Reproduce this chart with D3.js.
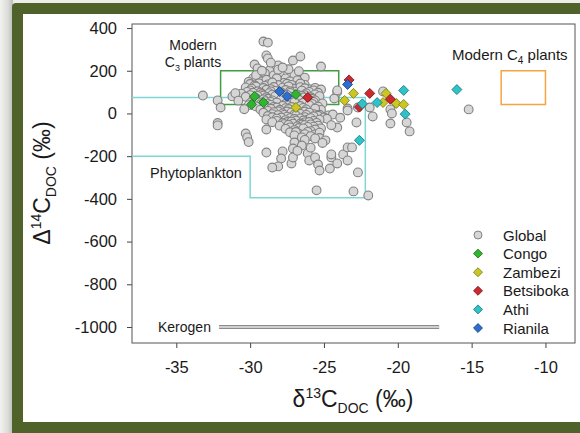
<!DOCTYPE html>
<html>
<head>
<meta charset="utf-8">
<script src="https://cdn.jsdelivr.net/npm/d3@7/dist/d3.min.js"></script>
<style>
  html, body { margin: 0; padding: 0; background: #ffffff; }
  svg { display: block; font-family: "Liberation Sans", Arial, sans-serif; }
</style>
</head>
<body>
<svg id="chart" width="580" height="433"></svg>
<script>
// Axis ticks
const xTicks = [-35, -30, -25, -20, -15, -10];
const yTicks = [400, 200, 0, -200, -400, -600, -800, -1000];

// Source end-member regions: [δ13C, Δ14C]
const c3Box = [[-32, 42], [-24, 200]];
const c4Box = [[-13, 42], [-10, 200]];
const phytoplankton = [[-40, 75], [-22.2, 75], [-22.2, -395], [-30, -395], [-30, -200], [-40, -200]];
const kerogen = [[-32.1, -1000], [-17.2, -1000]];

// Global river DOC compilation [δ13C, Δ14C]
const globalPts = [
  [-29.1,337],[-28.8,332],[-28.9,272],[-28.8,258],[-27.1,248],[-26.6,267],[-25.2,220],[-29.7,229],[-29.5,211],[-28.7,201],
  [-28.1,225],[-28.0,192],[-29.8,164],[-29.3,172],[-28.5,155],[-27.6,164],[-27.0,183],[-28.4,178],[-29.0,188],[-26.7,198],
  [-27.4,207],[-26.3,168],[-30.1,148],[-28.6,238],[-27.7,143],
  [-29.2,150],[-28.9,158],[-28.2,165],[-27.3,150],[-26.8,155],[-29.6,180],[-28.1,205],[-27.8,215],[-29.2,200],
  [-30.0,138],[-29.4,141],[-28.8,136],[-28.1,133],[-27.5,139],[-26.9,128],[-26.3,134],
  [-29.7,131],[-29.0,129],[-28.5,145],[-27.2,134],[-26.6,140],
  [-30.3,122],[-29.6,126],[-29.1,119],[-28.4,124],[-27.8,121],[-27.1,117],[-26.6,123],[-26.0,114],
  [-29.9,116],[-28.6,114],[-27.4,127],[-26.3,118],[-25.6,120],
  [-30.0,108],[-29.5,104],[-28.9,111],[-28.3,106],[-27.6,110],[-27.0,102],[-26.5,107],[-25.7,108],[-25.2,112],
  [-30.2,101],[-29.3,98],[-28.6,103],[-27.9,99],[-27.3,104],[-26.0,101],[-25.4,97],
  [-30.6,93],[-29.8,97],[-29.2,91],[-28.7,95],[-27.9,92],[-27.3,96],[-26.8,88],[-26.2,94],[-24.1,100],
  [-30.0,86],[-29.1,84],[-28.5,88],[-27.5,87],[-26.9,71],[-26.3,86],[-25.6,89],
  [-30.3,78],[-29.5,82],[-28.9,76],[-28.3,81],[-27.7,74],[-27.1,79],[-26.5,83],[-25.9,76],[-25.3,81],
  [-29.6,71],[-28.8,69],[-28.0,58],[-27.5,68],[-26.4,75],[-25.8,69],
  [-29.8,63],[-29.1,66],[-28.5,61],[-27.9,67],[-27.3,60],[-26.7,64],[-26.1,68],[-25.6,61],[-24.3,70],
  [-29.8,56],[-29.0,58],[-28.6,54],[-27.3,50],[-26.7,43],[-25.7,54],
  [-30.0,48],[-29.4,52],[-28.8,46],[-28.2,51],[-27.6,45],[-27.0,53],[-26.4,50],[-25.1,47],
  [-30.1,39],[-29.3,43],[-28.6,40],[-27.5,39],[-26.9,24],[-25.8,45],
  [-29.6,33],[-29.0,37],[-28.4,31],[-27.8,36],[-27.2,30],[-26.6,35],[-26.0,39],[-25.4,32],
  [-29.0,27],[-28.2,28],[-27.6,25],[-26.4,26],[-25.2,17],
  [-29.3,18],[-28.6,22],[-28.0,16],[-27.4,21],[-26.8,14],[-26.2,19],[-25.6,23],[-23.4,23],
  [-28.8,12],[-28.1,10],[-27.5,9],[-26.9,1],[-26.3,9],[-25.7,-3],
  [-29.1,3],[-28.4,6],[-27.8,0],[-27.2,5],[-26.6,-2],[-26.0,4],[-25.3,-6],[-24.7,-9],
  [-28.5,-3],[-27.7,-7],[-27.0,-5],[-26.2,-7],[-25.4,-11],
  [-28.8,-12],[-28.1,-8],[-27.5,-15],[-26.9,-10],[-26.3,-17],[-25.7,-13],[-25.0,-19],[-24.4,-5],
  [-28.5,-18],[-27.9,-19],[-27.3,-22],[-26.6,-23],[-26.1,-29],[-24.8,-25],
  [-28.9,-28],[-28.2,-24],[-27.6,-31],[-27.0,-26],[-26.4,-33],[-25.9,-22],[-25.3,-29],
  [-28.2,-35],[-27.5,-40],[-26.9,-34],[-26.3,-42],[-25.7,-35],
  [-28.5,-41],[-27.8,-45],[-27.2,-38],[-26.6,-47],[-26.0,-40],[-25.5,-44],
  [-27.7,-50],[-27.1,-48],[-26.5,-52],[-25.9,-51],[-25.4,-57],
  [-28.0,-57],[-27.4,-53],[-26.8,-60],[-26.3,-55],[-25.7,-62],[-25.2,-70],
  [-27.3,-65],[-26.7,-68],[-26.1,-63],[-25.6,-75],
  [-28.9,-75],[-27.6,-72],[-27.0,-78],[-26.4,-70],[-25.9,-83],[-24.1,-66],
  [-27.3,-88],[-26.7,-95],[-26.1,-86],[-25.6,-98],
  [-26.9,-87],[-26.3,-97],[-25.3,-90],
  [-27.0,-103],[-26.5,-112],[-25.9,-106],[-25.3,-115],
  [-27.0,-136],[-26.3,-124],[-25.6,-117],[-24.9,-126],[-25.1,-138],
  [-27.1,-164],[-27.8,-178],[-27.9,-211],[-28.1,-248],[-28.5,-253],[-27.2,-234],[-27.1,-206],[-26.1,-187],
  [-26.0,-220],[-25.6,-206],[-25.4,-239],[-25.3,-267],[-24.5,-206],[-24.6,-258],[-25.5,-360],[-28.9,-183],
  [-24.5,-192],[-24.1,-234],[-23.7,-192],[-23.4,-220],[-23.4,-159],[-23.1,-159],[-22.7,-276],[-23.0,-365],
  [-22.0,-384],[-26.5,-150],[-25.9,-160],[-26.8,-175],
  [-33.2,84],[-31.2,80],[-32.2,61],[-32.0,28],[-32.2,-45],[-32.2,-56],[-30.3,-94],[-30.2,-112],[-30.1,-134],
  [-31.0,95],[-30.8,60],[-30.4,20],
  [-24.1,108],[-23.4,14],[-22.7,28],[-21.9,28],[-21.7,-14],[-22.8,-42],[-21.0,103],[-20.5,19],[-20.4,0],
  [-20.5,-47],[-19.4,-42],[-19.2,-84],[-15.2,19],[-24.5,-55],[-23.9,-20]
];

// African river DOC
const congo = [[-29.7,80],[-29.9,42],[-29.1,51],[-26.9,89]];
const zambezi = [[-26.9,28],[-23.0,94],[-23.6,61],[-20.8,94],[-21.0,51],[-20.1,47],[-19.6,42]];
const betsiboka = [[-26.1,75],[-23.3,157],[-21.9,94],[-22.6,30],[-20.5,67]];
const athi = [[-19.6,108],[-21.4,51],[-22.4,45],[-19.5,-3],[-22.6,-126],[-16.0,112]];
const rianila = [[-28.0,103],[-27.5,80],[-23.4,136]];

const legendNames = ["Global", "Congo", "Zambezi", "Betsiboka", "Athi", "Rianila"];

const svg = d3.select("#chart");

// page frame
const defs = svg.append("defs");
const shade = defs.append("linearGradient").attr("id", "shade").attr("x1", 0).attr("x2", 1);
shade.append("stop").attr("offset", 0).attr("stop-color", "#f2f2f0");
shade.append("stop").attr("offset", 0.6).attr("stop-color", "#dcdcd8");
shade.append("stop").attr("offset", 1).attr("stop-color", "#bdbdb8");
svg.append("rect").attr("width", 580).attr("height", 433).attr("fill", "#ecece9");
svg.append("rect").attr("x", 0).attr("y", 0).attr("width", 13).attr("height", 433).attr("fill", "url(#shade)");
svg.append("rect").attr("x", 12).attr("y", 3).attr("width", 600).attr("height", 440).attr("rx", 4).attr("fill", "#4f6229");
svg.append("rect").attr("x", 23).attr("y", 14).attr("width", 600).attr("height", 408).attr("fill", "#ffffff");

const x = d3.scaleLinear().domain([-38, -8]).range([132, 575]);
const y = d3.scaleLinear().domain([-1075, 419]).range([343, 24]);

const clip = defs.append("clipPath").attr("id", "plotClip");
clip.append("rect").attr("x", 132).attr("y", 24).attr("width", 443).attr("height", 319);

// axes (plain hyphen-minus in tick labels)
const fmt = d => String(d);
const xAxis = svg.append("g").attr("transform", "translate(0,348)")
  .call(d3.axisBottom(x).tickValues(xTicks).tickSize(5).tickSizeOuter(0).tickFormat(fmt));
const yAxis = svg.append("g").attr("transform", "translate(127,0)")
  .call(d3.axisLeft(y).tickValues(yTicks).tickSize(5).tickSizeOuter(0).tickFormat(fmt));
[xAxis, yAxis].forEach(a => {
  a.select(".domain").remove();
  a.selectAll(".tick line").attr("stroke", "#444").attr("stroke-width", 1);
  a.selectAll(".tick text").attr("fill", "#1a1a1a").style("font-size", "16.5px")
    .style("font-family", "'Liberation Sans', Arial, sans-serif");
});
xAxis.selectAll(".tick line").attr("y1", -5).attr("y2", 0);
xAxis.selectAll(".tick text").attr("y", 13);
yAxis.selectAll(".tick line").attr("x1", 0).attr("x2", 5);
yAxis.selectAll(".tick text").attr("x", -10);

// plot frame
svg.append("rect").attr("x", 132).attr("y", 24).attr("width", 443).attr("height", 319)
  .attr("fill", "none").attr("stroke", "#555").attr("stroke-width", 1);

const plot = svg.append("g").attr("clip-path", "url(#plotClip)");
const line = d3.line().x(d => x(d[0])).y(d => y(d[1]));

// end-member regions
plot.append("path").attr("d", line(phytoplankton)).attr("fill", "none")
  .attr("stroke", "#7fd6d6").attr("stroke-width", 1.5);
const box = (b, color) => plot.append("rect")
  .attr("x", x(b[0][0])).attr("y", y(b[1][1]))
  .attr("width", x(b[1][0]) - x(b[0][0])).attr("height", y(b[0][1]) - y(b[1][1]))
  .attr("fill", "none").attr("stroke", color).attr("stroke-width", 1.5);
box(c3Box, "#3f9e3f");
box(c4Box, "#f5a443");
plot.append("path").attr("d", line(kerogen)).attr("stroke", "#8c8c8c").attr("stroke-width", 4);
plot.append("path").attr("d", line(kerogen)).attr("stroke", "#e6e6e6").attr("stroke-width", 1.4);

// region labels
const label = (txt, px, py, size, anchor) => svg.append("text").attr("x", px).attr("y", py)
  .attr("text-anchor", anchor || "start").style("font-size", size + "px").attr("fill", "#1a1a1a").text(txt);
label("Modern", 193, 50, 14, "middle");
const c3 = svg.append("text").attr("x", 193).attr("y", 67).attr("text-anchor", "middle")
  .style("font-size", "14px").attr("fill", "#1a1a1a");
c3.append("tspan").text("C");
c3.append("tspan").attr("dy", 4).style("font-size", "9px").text("3");
c3.append("tspan").attr("dy", -4).text(" plants");
const c4 = svg.append("text").attr("x", 452).attr("y", 60).style("font-size", "15px").attr("fill", "#1a1a1a");
c4.append("tspan").text("Modern C");
c4.append("tspan").attr("dy", 4).style("font-size", "10px").text("4");
c4.append("tspan").attr("dy", -4).text(" plants");
label("Phytoplankton", 150, 178, 14.5);
label("Kerogen", 158, 332, 14);

// points
const series = [
  { name: "Congo", data: congo, fill: "#2fb52f", stroke: "#1f6f1f" },
  { name: "Zambezi", data: zambezi, fill: "#c9c724", stroke: "#7d7a14" },
  { name: "Betsiboka", data: betsiboka, fill: "#cc2a2e", stroke: "#7a1518" },
  { name: "Athi", data: athi, fill: "#2ec3c9", stroke: "#17797d" },
  { name: "Rianila", data: rianila, fill: "#2d6fd0", stroke: "#183f80" }
];
const diamond = d3.symbol(d3.symbolSquare, 50);

plot.append("g").selectAll("circle").data(globalPts).join("circle")
  .attr("cx", d => x(d[0])).attr("cy", d => y(d[1])).attr("r", 4.4)
  .attr("fill", "#d6d6d6").attr("stroke", "#828282").attr("stroke-width", 1.1);

series.forEach(s => {
  plot.append("g").selectAll("path").data(s.data).join("path")
    .attr("d", diamond)
    .attr("transform", d => `translate(${x(d[0])},${y(d[1])}) rotate(45)`)
    .attr("fill", s.fill).attr("stroke", s.stroke).attr("stroke-width", 0.8);
});

// legend
const lg = svg.append("g");
legendNames.forEach((nm, i) => {
  const cy = 235 + i * 18.6;
  if (i === 0) {
    lg.append("circle").attr("cx", 478).attr("cy", cy).attr("r", 4)
      .attr("fill", "#d6d6d6").attr("stroke", "#828282").attr("stroke-width", 1);
  } else {
    const s = series[i - 1];
    lg.append("path").attr("d", d3.symbol(d3.symbolSquare, 40))
      .attr("transform", `translate(478,${cy}) rotate(45)`)
      .attr("fill", s.fill).attr("stroke", s.stroke).attr("stroke-width", 0.8);
  }
  lg.append("text").attr("x", 503).attr("y", cy + 5.5).style("font-size", "15px")
    .attr("fill", "#1a1a1a").text(nm);
});

// axis titles
const xt = svg.append("text").attr("x", 353).attr("y", 407).attr("text-anchor", "middle")
  .style("font-size", "23px").attr("fill", "#1a1a1a");
xt.append("tspan").text("δ");
xt.append("tspan").attr("dy", -9).style("font-size", "14px").text("13");
xt.append("tspan").attr("dy", 9).text("C");
xt.append("tspan").attr("dy", 6).style("font-size", "14px").text("DOC");
xt.append("tspan").attr("dy", -6).text(" (‰)");

const yt = svg.append("text").attr("transform", "translate(50,183) rotate(-90)")
  .attr("text-anchor", "middle").style("font-size", "23px").attr("fill", "#1a1a1a");
yt.append("tspan").text("Δ");
yt.append("tspan").attr("dy", -9).style("font-size", "14px").text("14");
yt.append("tspan").attr("dy", 9).text("C");
yt.append("tspan").attr("dy", 6).style("font-size", "14px").text("DOC");
yt.append("tspan").attr("dy", -6).text(" (‰)");
</script>
</body>
</html>
